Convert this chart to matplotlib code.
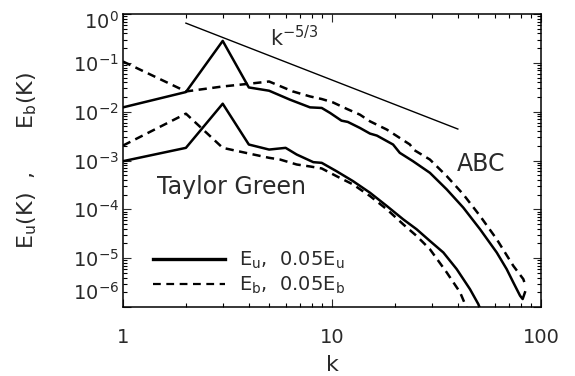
import numpy as np
import matplotlib
matplotlib.use("Agg")
import matplotlib.pyplot as plt
import matplotlib.transforms as mtrans
from matplotlib.ticker import LogLocator, LogFormatterMathtext, FixedLocator, FixedFormatter

plt.rcParams['font.family'] = ['DejaVu Sans']
plt.rcParams['mathtext.default'] = 'regular'

# === DATA ===
# ABC run, kinetic spectrum (solid, upper)
abc_u_k = [1, 2, 3, 4, 5, 6.3, 7.85, 8.93, 9.8, 11.1, 11.9, 13.6, 15.2, 16.4, 19.6, 21.1,
           24.4, 29.4, 35.4, 42.5, 51.1, 61.4, 68.5, 73.7, 79.4, 81.7, 83.8]
abc_u_log = [-1.912, -1.598, -0.551, -1.504, -1.571, -1.755, -1.912, -1.924, -2.027, -2.184, -2.21,
             -2.333, -2.449, -2.49, -2.673, -2.843, -3.014, -3.252, -3.592, -3.966, -4.408,
             -4.884, -5.224, -5.497, -5.769, -5.837, -5.70]

# ABC run, magnetic spectrum (dashed, upper)
abc_b_k = [1, 2, 3, 4, 5, 6.5, 7.85, 8.93, 10.1, 11.8, 13.6, 15.2, 18.3, 23.6, 24.5, 29.4,
           35.4, 42.5, 51.1, 61.4, 73.7, 82.3, 83.8]
abc_b_log = [-0.973, -1.586, -1.484, -1.429, -1.382, -1.586, -1.688, -1.741, -1.81, -1.945,
             -2.061, -2.198, -2.367, -2.673, -2.776, -2.98, -3.32, -3.694, -4.136, -4.612,
             -5.157, -5.429, -5.53]

# Taylor Green run, 0.05 * kinetic (solid, lower)
tg_u_k = [1, 2, 3, 4, 5, 6, 6.78, 8.14, 8.93, 10.5, 12.6, 15.2, 18.3, 21.9, 25.4, 29.4,
          34.1, 39.5, 45.7, 50.1, 53]
tg_u_log = [-3.014, -2.741, -1.837, -2.673, -2.776, -2.741, -2.878, -3.034, -3.048, -3.218,
            -3.422, -3.66, -3.932, -4.204, -4.408, -4.647, -4.884, -5.224, -5.633, -5.939, -6.2]

# Taylor Green run, 0.05 * magnetic (dashed, lower)
tg_b_k = [1, 2, 3, 4, 5, 5.64, 6.78, 7.85, 8.93, 10.5, 12.6, 15.2, 18.3, 21.9, 25.4, 29.4,
          35.4, 41, 43.3, 46]
tg_b_log = [-2.694, -2.041, -2.741, -2.857, -2.945, -2.98, -3.082, -3.122, -3.163, -3.32,
            -3.49, -3.728, -4.0, -4.306, -4.545, -4.816, -5.293, -5.7, -5.94, -6.2]

# Kolmogorov reference slope
kol_k = [2, 40]
kol_amp = 0.65

xticks = [1, 10, 100]
xticklabels = ['1', '10', '100']

LW = 1.8
DASH = (3.3, 2.2)
TXT = '#2a2a2a'

fig = plt.figure(figsize=(5.75, 3.76), dpi=100)
ax = fig.add_axes([123 / 575, 1 - 307 / 376, 418 / 575, 293 / 376])

ax.plot(abc_u_k, 10 ** np.array(abc_u_log), color='black', lw=LW, solid_joinstyle='round')
ax.plot(abc_b_k, 10 ** np.array(abc_b_log), color='black', lw=LW, dashes=DASH)
ax.plot(tg_u_k, 10 ** np.array(tg_u_log), color='black', lw=LW, solid_joinstyle='round')
ax.plot(tg_b_k, 10 ** np.array(tg_b_log), color='black', lw=LW, dashes=DASH)

kk = np.array(kol_k, dtype=float)
ax.plot(kk, kol_amp * (kk / kk[0]) ** (-5 / 3), color='black', lw=1.0)

ax.set_xscale('log')
ax.set_yscale('log')
ax.set_xlim(1, 100)
ax.set_ylim(1e-6, 1)

ax.xaxis.set_major_locator(FixedLocator(xticks))
ax.xaxis.set_major_formatter(FixedFormatter(xticklabels))
ax.xaxis.set_minor_locator(LogLocator(base=10, subs=np.arange(2, 10)))
ax.yaxis.set_major_locator(LogLocator(base=10, numticks=10))
ax.yaxis.set_major_formatter(LogFormatterMathtext())
ax.yaxis.set_minor_locator(LogLocator(base=10, subs=np.arange(2, 10), numticks=10))
ax.xaxis.set_minor_formatter(plt.NullFormatter())
ax.yaxis.set_minor_formatter(plt.NullFormatter())

ax.tick_params(which='both', direction='in', top=True, right=True, color='black')
ax.tick_params(which='major', length=6, width=0.8)
ax.tick_params(which='minor', length=3, width=0.8)
ax.tick_params(axis='x', which='major', pad=15, labelsize=14, colors=TXT)
ax.tick_params(axis='y', which='major', pad=3, labelsize=14, colors=TXT)
for s in ax.spines.values():
    s.set_linewidth(1.1)

ax.set_xlabel('k', fontsize=16, color=TXT)
ax.xaxis.set_label_coords(0.5, -0.165)
fig.text(27 / 575, 1 - 160 / 376, 'E$_u$(K)  ,      E$_b$(K)', rotation=90,
         ha='center', va='center', fontsize=16, color=TXT)

ax.text(5.05, 0.222, 'k$^{-5/3}$', fontsize=15, va='baseline', ha='left', color=TXT)
ax.text(39.6, 5.97e-4, 'ABC', fontsize=17, va='baseline', ha='left', color=TXT)
ax.text(1.45, 2.02e-4, 'Taylor Green', fontsize=17, va='baseline', ha='left', color=TXT)

h1, = ax.plot([], [], color='black', lw=2.4)
h2, = ax.plot([], [], color='black', lw=1.6, dashes=(3.5, 2.5))
leg = ax.legend([h1, h2], ['E$_u$,  0.05E$_u$', 'E$_b$,  0.05E$_b$'], loc='upper left',
                bbox_to_anchor=(0.072, 0.196), frameon=False, fontsize=14,
                handlelength=3.7, handletextpad=0.7, labelspacing=0.2,
                borderpad=0, borderaxespad=0)
for t in leg.get_texts():
    t.set_color(TXT)

# keep the end labels of the y axis inside the frame, as in the original
fig.canvas.draw()
yticks = [t for t in ax.yaxis.get_major_ticks()
          if 1e-6 * 0.99 <= t.get_loc() <= 1.01]
for t in yticks:
    if abs(np.log10(t.get_loc())) < 0.01:
        dy = -6
    elif abs(np.log10(t.get_loc()) + 6) < 0.01:
        dy = 16
    else:
        continue
    off = mtrans.ScaledTranslation(0, dy / 100, fig.dpi_scale_trans)
    t.label1.set_transform(t.label1.get_transform() + off)

fig.savefig('out.png', dpi=100)
